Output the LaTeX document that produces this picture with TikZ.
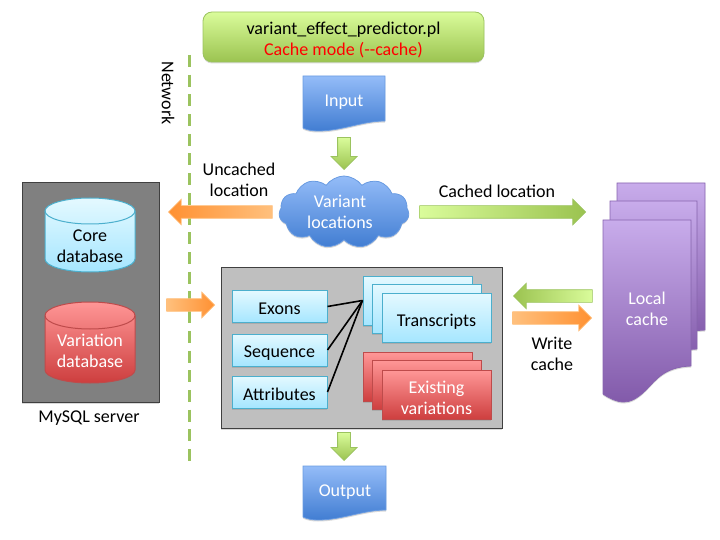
\documentclass[tikz,border=0pt]{standalone}
\usepackage{fontspec}
\setmainfont{Carlito}
\usetikzlibrary{shapes.symbols,shapes.arrows,shadows}
\definecolor{greentop}{RGB}{218,252,155}
\definecolor{greenbot}{RGB}{155,195,80}
\definecolor{greenedge}{RGB}{155,195,95}
\definecolor{cyantop}{RGB}{228,249,255}
\definecolor{cyanbot}{RGB}{165,230,255}
\definecolor{cyanedge}{RGB}{75,175,205}
\definecolor{redtop}{RGB}{255,150,150}
\definecolor{redbot}{RGB}{205,62,62}
\definecolor{rededge}{RGB}{190,75,75}
\definecolor{bluetop}{RGB}{148,188,248}
\definecolor{bluebot}{RGB}{65,125,210}
\definecolor{blueedge}{RGB}{105,155,225}
\definecolor{purpletop}{RGB}{200,172,235}
\definecolor{purplebot}{RGB}{130,90,170}
\definecolor{purpleedge}{RGB}{135,100,175}
\definecolor{orangedark}{RGB}{255,145,50}
\definecolor{orangelight}{RGB}{255,192,125}
\tikzset{
  softshadow/.style={drop shadow={shadow xshift=0pt,shadow yshift=-1.5pt,opacity=0.3}},
  label/.style={inner sep=0pt,align=center,font=\fontsize{18}{21}\selectfont},
  whitelabel/.style={label,text=white},
  fillgreen/.style={draw=greenedge,top color=greentop,bottom color=greenbot,line width=0.8pt},
  fillcyan/.style={draw=cyanedge,top color=cyantop,bottom color=cyanbot,line width=1pt},
  fillred/.style={draw=rededge,top color=redtop,bottom color=redbot,line width=1pt},
  fillblue/.style={draw=blueedge,top color=bluetop,bottom color=bluebot,line width=0.8pt},
  fillpurple/.style={draw=purpleedge,top color=purpletop,bottom color=purplebot,line width=0.8pt},
  cachebox/.style={rectangle,inner sep=0pt,softshadow},
  smallbox/.style={cachebox,fillcyan,minimum width=95pt,minimum height=32pt,text height=17pt,font=\fontsize{18}{21}\selectfont},
  stackcyan/.style={cachebox,fillcyan,minimum width=109pt,minimum height=49pt},
  stackred/.style={cachebox,fillred,minimum width=109pt,minimum height=49pt},
  greybox/.style={rectangle,draw=black!75,line width=1pt,softshadow},
  bararrow/.style={single arrow,anchor=tip,inner sep=6pt,single arrow head extend=6.5pt,line width=0.6pt},
  downgreen/.style={bararrow,shape border rotate=270,fillgreen},
  link/.style={draw=black,line width=1.6pt},
}
\begin{document}
\begin{tikzpicture}[x=1pt,y=-1pt]
\useasboundingbox (0,0) rectangle (720,540);
\node[rectangle,rounded corners=9pt,fillgreen,softshadow,minimum width=281pt,minimum height=50pt] (title) at (343.5,37) {};
\node[label] (titletext) at (343.5,40) {variant\_effect\_predictor.pl\\\textcolor{red}{Cache mode (-{}-cache)}};
\draw[greenedge,line width=3pt,dash pattern=on 12pt off 7.7pt] (189,55) -- (189,462);
\node[label,rotate=-90] (network) at (168,93) {Network};
\draw[fillblue,softshadow] (303,76) -- (385,76) -- (385,121) .. controls (362,121) and (342,131) .. (318,131) .. controls (312,131) and (307,130) .. (303,128) -- cycle;
\node[whitelabel] (input) at (344,102) {Input};
\node[downgreen,minimum height=32pt] (toloc) at (344,170) {};
\node[cloud,cloud puffs=11,cloud puff arc=110,aspect=1.8,fillblue,minimum width=130pt,minimum height=72pt,inner sep=0pt,softshadow] (locations) at (344,212) {};
\node[whitelabel] (locationtext) at (340,212) {Variant\\locations};
\node[label] (uncached) at (239,180) {Uncached\\location};
\node[bararrow,shape border rotate=180,left color=orangedark,right color=orangelight,draw=orangelight,minimum height=104pt] (toserver) at (168,212) {};
\node[label] (cached) at (497,191) {Cached location};
\node[bararrow,left color=greentop,right color=greenbot,draw=greenedge,minimum height=166pt] (tocache) at (586,212) {};
\node[greybox,fill=black!50,minimum width=137pt,minimum height=219pt] (server) at (90.5,292.5) {};
\draw[fillcyan,softshadow] (45,211) .. controls (45,203.8) and (65.1,198) .. (90,198) .. controls (114.9,198) and (135,203.8) .. (135,211) -- (135,259) .. controls (135,266.2) and (114.9,272) .. (90,272) .. controls (65.1,272) and (45,266.2) .. (45,259) -- cycle;
\draw[cyanedge,line width=1pt] (45,211) .. controls (45,218.2) and (65.1,224) .. (90,224) .. controls (114.9,224) and (135,218.2) .. (135,211);
\node[label] (coretext) at (90,246.5) {Core\\database};
\draw[fillred,softshadow] (45,315.5) .. controls (45,308) and (65.1,302) .. (90,302) .. controls (114.9,302) and (135,308) .. (135,315.5) -- (135,370) .. controls (135,377.2) and (114.9,383) .. (90,383) .. controls (65.1,383) and (45,377.2) .. (45,370) -- cycle;
\draw[rededge,line width=1pt] (45,315.5) .. controls (45,323) and (65.1,329) .. (90,329) .. controls (114.9,329) and (135,323) .. (135,315.5);
\node[whitelabel] (variationtext) at (90,351) {Variation\\database};
\node[label] (mysql) at (89,418) {MySQL server};
\node[bararrow,left color=orangelight,right color=orangedark,draw=orangelight,minimum height=48pt] (fromserver) at (215,305) {};
\node[greybox,fill=black!25,minimum width=281pt,minimum height=161pt] (main) at (361.5,347.5) {};
\node[smallbox] (exons) at (279.5,306.5) {Exons};
\node[smallbox] (sequence) at (279.5,350) {Sequence};
\node[smallbox] (attributes) at (279.5,392) {Attributes};
\node[stackcyan] (trback) at (417.5,300.5) {};
\node[stackcyan] (trmid) at (426.5,308.5) {};
\node[stackcyan,label,text height=20pt,minimum width=109pt,minimum height=49pt] (transcripts) at (436.5,318) {Transcripts};
\node[stackred] (exback) at (417.5,377) {};
\node[stackred] (exmid) at (426.5,385) {};
\node[stackred] (exfront) at (436.5,395) {};
\node[whitelabel] (existing) at (436.5,397.5) {Existing\\variations};
\draw[link] (exons.east) -- (trback.west);
\draw[link] (sequence.east) -- (trback.west);
\draw[link] (attributes.east) -- (trback.west);
\node[bararrow,shape border rotate=180,left color=greenbot,right color=greentop,draw=greenedge,minimum height=79pt] (readcache) at (513,296) {};
\node[bararrow,left color=orangelight,right color=orangedark,draw=orangelight,minimum height=79pt] (writecache) at (592,318) {};
\node[label] (write) at (552,354) {Write\\cache};
\draw[fillpurple,softshadow] (617,183) -- (705,183) -- (705,330) -- (690,331) -- (617,340) -- cycle;
\draw[fillpurple,softshadow] (610,201) -- (697,201) -- (697,349) -- (680,350) -- (610,360) -- cycle;
\draw[fillpurple,softshadow] (603,220) -- (691,220) -- (691,366) .. controls (664,367) and (656,380) .. (646,390) .. controls (637,399) and (630,402) .. (624,402) .. controls (616,402) and (609,398) .. (603,394) -- cycle;
\node[whitelabel] (localcache) at (647,309) {Local\\cache};
\node[downgreen,minimum height=28pt] (tooutput) at (344,461) {};
\draw[fillblue,softshadow] (303,466) -- (386,466) -- (386,510) .. controls (363,510) and (342,520) .. (318,520) .. controls (312,520) and (307,519) .. (303,517) -- cycle;
\node[whitelabel] (output) at (345,492) {Output};
\end{tikzpicture}
\end{document}
